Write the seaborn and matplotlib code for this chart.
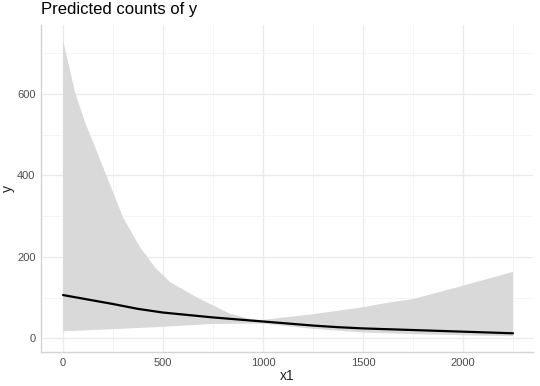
import matplotlib
matplotlib.use("Agg")
import matplotlib.pyplot as plt
import seaborn as sns
import pandas as pd
from matplotlib.ticker import MultipleLocator

# predicted line
x_pred = [0, 125, 250, 375, 500, 625, 750, 875, 1000, 1125, 1250, 1375, 1500, 1750, 2000, 2250]
y_pred = [106, 95, 84, 72, 63, 57, 51, 46, 41, 36, 31, 27, 24, 20, 16, 12]

# confidence band edges
x_upper = [0, 60, 110, 193, 300, 385, 460, 535, 585, 670, 835, 935, 1000, 1250, 1500, 1635, 1750, 2000, 2250]
y_upper = [733, 605, 531, 430, 297, 224, 174, 138, 124, 100, 60, 47, 45, 59, 76, 88, 96, 129, 163]
x_lower = [0, 250, 500, 750, 1000, 1250, 1500, 1750, 2000, 2250]
y_lower = [17, 22, 28, 35, 36, 23, 14, 10, 7, 5]

title = "Predicted counts of y"
xlabel = "x1"
ylabel = "y"

sns.set_theme(style="whitegrid")
plt.rcParams['font.family'] = ['Liberation Sans', 'DejaVu Sans']

fig = plt.figure(figsize=(5.4, 3.86), dpi=100)
ax = fig.add_axes([41/540, 34/386, (533-41)/540, (352-25)/386])

poly_x = list(x_upper) + list(reversed(x_lower))
poly_y = list(y_upper) + list(reversed(y_lower))
ax.fill(poly_x, poly_y, color="#d9d9d9", linewidth=0, zorder=2)

df = pd.DataFrame({"x1": x_pred, "y": y_pred})
sns.lineplot(data=df, x="x1", y="y", color="black", linewidth=1.6, ax=ax, zorder=3)

ax.set_xlim(-110, 2350)
ax.set_ylim(-34, 770)
ax.xaxis.set_major_locator(MultipleLocator(500))
ax.xaxis.set_minor_locator(MultipleLocator(250))
ax.yaxis.set_major_locator(MultipleLocator(200))
ax.yaxis.set_minor_locator(MultipleLocator(100))
ax.grid(which="major", color="#ebebeb", linewidth=1.0)
ax.grid(which="minor", color="#f2f2f2", linewidth=0.6)
ax.set_axisbelow(True)

for s in ["top", "right"]:
    ax.spines[s].set_visible(False)
for s in ["left", "bottom"]:
    ax.spines[s].set_visible(True)
    ax.spines[s].set_color("#d4d4d4")
    ax.spines[s].set_linewidth(1.0)

ax.tick_params(axis="both", which="both", length=0, labelsize=8, colors="#4d4d4d")
ax.tick_params(axis="x", pad=4)
ax.tick_params(axis="y", pad=4)
ax.set_xlabel(xlabel, fontsize=10, color="#222222", labelpad=1)
ax.set_ylabel(ylabel, fontsize=10, color="#222222")
ax.yaxis.set_label_coords(-0.052, 0.5)
ax.set_title(title, loc="left", fontsize=12, color="black", pad=8)

fig.savefig("out.png", dpi=100)
